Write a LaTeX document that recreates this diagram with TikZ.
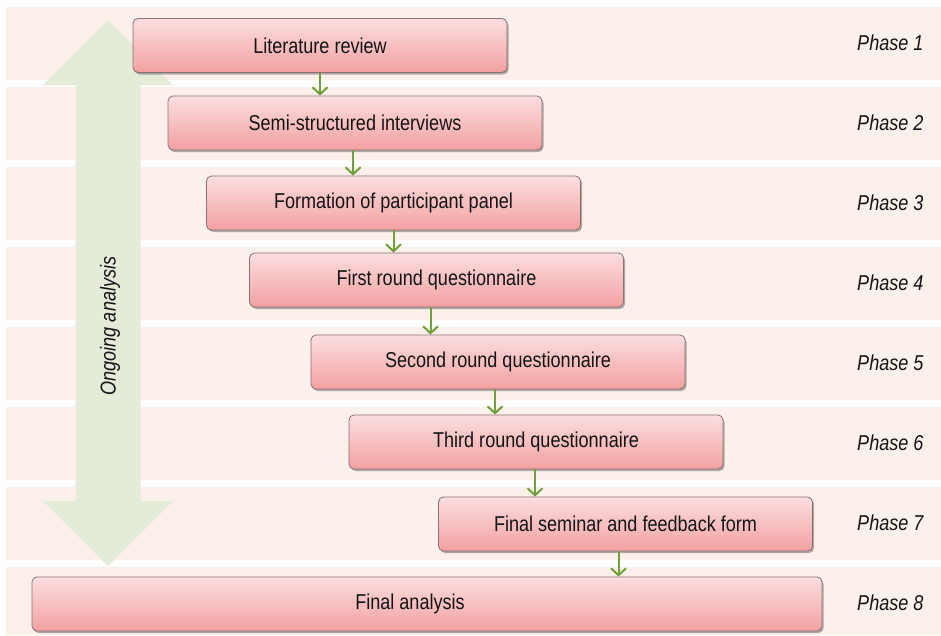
\documentclass[tikz,border=0pt]{standalone}
\usepackage{fontspec}
\setmainfont{Liberation Sans}[FakeStretch=0.84]
\usetikzlibrary{arrows.meta,shadows}

\definecolor{bandpink}{HTML}{FCF0EB}
\definecolor{arrowgreen}{HTML}{E5EBD9}
\definecolor{boxtop}{HTML}{FBDEDF}
\definecolor{boxbottom}{HTML}{F3A0A1}
\definecolor{boxedge}{HTML}{8A7075}
\definecolor{linkgreen}{HTML}{6FA03C}
\definecolor{ink}{HTML}{141414}

\tikzset{
  band/.style={fill=bandpink, draw=none},
  stagebox/.style={rectangle, rounded corners=5pt, draw=boxedge, line width=0.8pt,
    top color=boxtop, bottom color=boxbottom,
    minimum width=374pt, minimum height=54pt, inner sep=0pt, text=ink,
    font=\fontsize{21.5}{25}\selectfont,
    drop shadow={shadow xshift=1.5pt, shadow yshift=-2pt, opacity=0.3, fill=black}},
  phaselabel/.style={anchor=west, inner sep=0pt, text=ink,
    font=\fontsize{21.5}{25}\selectfont\itshape},
  link/.style={draw=linkgreen, line width=2pt, -{Straight Barb[length=7pt,width=15pt]}},
}

\begin{document}
\begin{tikzpicture}[x=1pt, y=-1pt]
  \useasboundingbox (0,0) rectangle (941,635);
  \fill[white] (0,0) rectangle (941,635);

  % horizontal phase bands
  \foreach \i in {0,...,6}
    \fill[band] (6,{7+80*\i}) rectangle (941,{80+80*\i});
  \fill[band] (6,567) rectangle (941,635);

  % double-headed block arrow behind the stages
  \fill[arrowgreen] (108,20) -- (173,85) -- (140.5,85) -- (140.5,501) -- (173,501)
    -- (108,566) -- (43,501) -- (75.5,501) -- (75.5,85) -- (43,85) -- cycle;
  \node[rotate=90, text=ink, font=\fontsize{21.5}{25}\selectfont\itshape]
    (ongoing) at (110,326) {Ongoing analysis};

  % stages
  \node[stagebox] (b1) at (320,45.5) {Literature review};
  \node[stagebox] (b2) at (355,123) {Semi-structured interviews};
  \node[stagebox] (b3) at (393.5,203) {Formation of participant panel};
  \node[stagebox] (b4) at (436.5,280) {First round questionnaire};
  \node[stagebox] (b5) at (498,362) {Second round questionnaire};
  \node[stagebox] (b6) at (536,442) {Third round questionnaire};
  \node[stagebox] (b7) at (625.5,524) {Final seminar and feedback form};
  \node[stagebox, minimum width=790pt] (b8) at (427,604) {Final analysis\hspace*{34pt}};

  % phase labels
  \foreach \i in {1,...,8}
    \node[phaselabel] (p\i) at (857,{42.5+80*(\i-1)}) {Phase \i};

  % connectors between stages
  \path (b1.south) coordinate (s1)
        (b2.south) ++(-2,0) coordinate (s2)
        (b3.south) coordinate (s3)
        (b4.south) ++(-6,0) coordinate (s4)
        (b5.south) ++(-3,0) coordinate (s5)
        (b6.south) ++(-1,0) coordinate (s6)
        (b7.south) ++(-7,0) coordinate (s7);
  \draw[link] (s1) -- (s1 |- b2.north);
  \draw[link] (s2) -- (s2 |- b3.north);
  \draw[link] (s3) -- (s3 |- b4.north);
  \draw[link] (s4) -- (s4 |- b5.north);
  \draw[link] (s5) -- (s5 |- b6.north);
  \draw[link] (s6) -- (s6 |- b7.north);
  \draw[link] (s7) -- (s7 |- b8.north);
\end{tikzpicture}
\end{document}
